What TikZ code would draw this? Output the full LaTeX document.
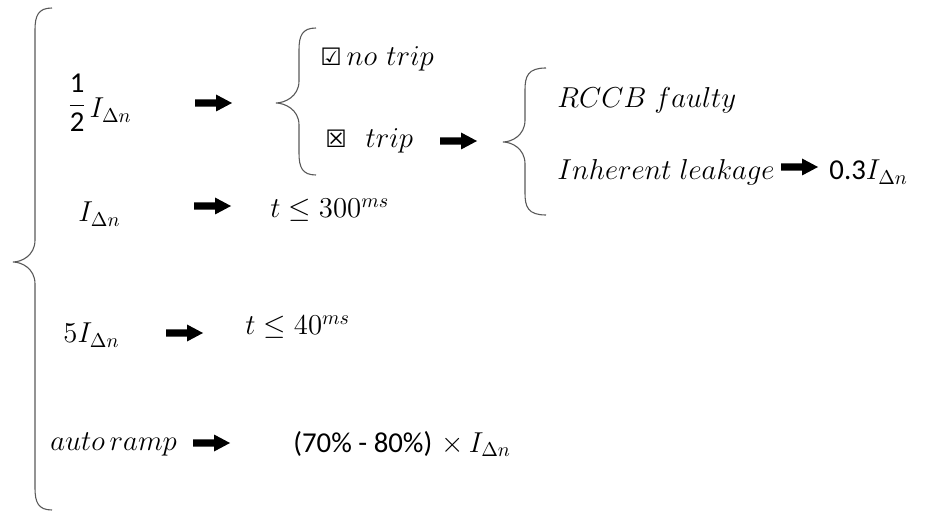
\documentclass[tikz,border=0pt]{standalone}
\usepackage{fontspec}
\newfontfamily\carlito{Carlito}
\newfontfamily\dejavu{DejaVu Sans}
\tikzset{
  lbl/.style={anchor=base west, inner sep=0pt, font=\fontsize{14.4}{17}\selectfont},
  bracestyle/.style={draw=black!65, line width=0.55pt},
  blockarr/.pic={\fill[black] (-18,-3.6) -- (3,-3.6) -- (3,-8.5) -- (19,0) -- (3,8.5) -- (3,3.6) -- (-18,3.6) -- cycle;}
}
\newcommand{\brc}[6]{% xv, ytop, ytip, ybot, xtip, xend
  \draw[bracestyle] (#6,#2) .. controls (#1+3,#2) and (#1,#2+8) .. (#1,#2+22)
    -- (#1,#3-22) .. controls (#1,#3-6) and (#5+8,#3) .. (#5,#3)
    .. controls (#5+8,#3) and (#1,#3+6) .. (#1,#3+22)
    -- (#1,#4-22) .. controls (#1,#4-8) and (#1+3,#4) .. (#6,#4);}
\begin{document}
\begin{tikzpicture}[x=0.5pt,y=-0.5pt]
\useasboundingbox (0,0) rectangle (937,513);
% braces
\brc{35}{8}{262}{510}{13}{52}
\brc{299}{28}{103}{175}{276}{316}
\brc{525}{68}{142}{215}{503}{546}
% row 1/2 I
\node[lbl, anchor=west] (half) at (67,103) {$\displaystyle\frac{\hbox{\carlito 1}}{\hbox{\carlito 2}}$};
\node[lbl, anchor=base west] (halfI) at ([xshift=1pt]half.east |- 0,118) {$I_{\Delta n}$};
\pic at (213,103) {blockarr};
\node[lbl] (notrip) at (320,66) {{\dejavu\fontsize{12}{14}\selectfont ☑}\,$no\ trip$};
\node[lbl] (trip) at (325,148) {{\dejavu\fontsize{12}{14}\selectfont ☒}\ \ $trip$};
\pic at (458,141) {blockarr};
\node[lbl] (rccb) at (557,108) {$RCCB\;faulty$};
\node[lbl] (leak) at (557,180) {$Inherent\;leakage$};
\pic at (799,167) {blockarr};
\node[lbl] (leakval) at (829,180) {{\carlito 0.3}$I_{\Delta n}$};
% row I
\node[lbl] (In) at (78,222) {$I_{\Delta n}$};
\pic at (212,206) {blockarr};
\node[lbl] (t300) at (270,218) {$t\leq 300^{ms}$};
% row 5I
\node[lbl] (fiveI) at (63,343) {$5I_{\Delta n}$};
\pic at (184,333) {blockarr};
\node[lbl] (t40) at (245,335) {$t\leq 40^{ms}$};
% auto ramp
\node[lbl] (ramp) at (50,450) {$auto\,ramp$};
\pic at (211,443) {blockarr};
\node[lbl] (rampval) at (293,452) {{\carlito (70\% - 80\%)} $\times\, I_{\Delta n}$};
\end{tikzpicture}
\end{document}
